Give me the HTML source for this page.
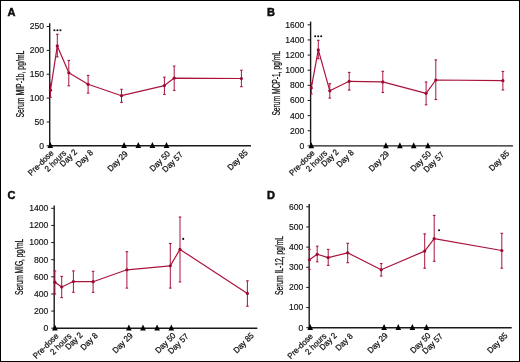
<!DOCTYPE html>
<html><head><meta charset="utf-8"><style>
html,body{margin:0;padding:0;background:#fff;}
svg{display:block;font-family:"Liberation Sans", sans-serif;}
text{stroke:#111;stroke-width:0.25px;fill:#111}
text.tk{stroke-width:0.15px;fill:#141414}
</style></head><body>
<div style="will-change:transform"><svg width="520" height="362" viewBox="0 0 520 362">
<rect x="0" y="0" width="520" height="362" fill="#fff"/>
<text x="7.5" y="16.3" font-size="11" font-weight="bold" fill="#000" style="stroke:#000;stroke-width:0.45px">A</text>
<line x1="49.7" y1="23.3" x2="49.7" y2="146.5" stroke="#1a1a1a" stroke-width="1.4"/>
<line x1="49" y1="145.8" x2="251" y2="145.8" stroke="#1a1a1a" stroke-width="1.4"/>
<line x1="46.7" y1="145.8" x2="49.7" y2="145.8" stroke="#1a1a1a" stroke-width="1"/>
<text x="44.1" y="148.7" font-size="8.6" text-anchor="end" class="tk">0</text>
<line x1="46.7" y1="121.94" x2="49.7" y2="121.94" stroke="#1a1a1a" stroke-width="1"/>
<text x="44.1" y="124.84" font-size="8.6" text-anchor="end" class="tk">50</text>
<line x1="46.7" y1="98.08" x2="49.7" y2="98.08" stroke="#1a1a1a" stroke-width="1"/>
<text x="44.1" y="100.98" font-size="8.6" text-anchor="end" class="tk">100</text>
<line x1="46.7" y1="74.22" x2="49.7" y2="74.22" stroke="#1a1a1a" stroke-width="1"/>
<text x="44.1" y="77.12" font-size="8.6" text-anchor="end" class="tk">150</text>
<line x1="46.7" y1="50.36" x2="49.7" y2="50.36" stroke="#1a1a1a" stroke-width="1"/>
<text x="44.1" y="53.26" font-size="8.6" text-anchor="end" class="tk">200</text>
<line x1="46.7" y1="26.5" x2="49.7" y2="26.5" stroke="#1a1a1a" stroke-width="1"/>
<text x="44.1" y="29.4" font-size="8.6" text-anchor="end" class="tk">250</text>
<path d="M47.5 148.1L50.3 142.1L53.1 148.1Z" fill="#000"/>
<path d="M121.3 148.1L124.1 142.1L126.9 148.1Z" fill="#000"/>
<path d="M135.5 148.1L138.3 142.1L141.1 148.1Z" fill="#000"/>
<path d="M149.6 148.1L152.4 142.1L155.2 148.1Z" fill="#000"/>
<path d="M163.7 148.1L166.5 142.1L169.3 148.1Z" fill="#000"/>
<text x="54" y="153.7" font-size="8.3" text-anchor="end" transform="rotate(-45 54 153.7)" textLength="31.99" lengthAdjust="spacingAndGlyphs" fill="#111">Pre-dose</text>
<text x="66.7" y="153.7" font-size="8.3" text-anchor="end" transform="rotate(-45 66.7 153.7)" textLength="26.3" lengthAdjust="spacingAndGlyphs" fill="#111">2 hours</text>
<text x="77.7" y="152.6" font-size="8.3" text-anchor="end" transform="rotate(-45 77.7 152.6)" textLength="20.6" lengthAdjust="spacingAndGlyphs" fill="#111">Day 2</text>
<text x="93.6" y="153.2" font-size="8.3" text-anchor="end" transform="rotate(-45 93.6 153.2)" textLength="20.6" lengthAdjust="spacingAndGlyphs" fill="#111">Day 8</text>
<text x="128.3" y="154.3" font-size="8.3" text-anchor="end" transform="rotate(-45 128.3 154.3)" textLength="24.98" lengthAdjust="spacingAndGlyphs" fill="#111">Day 29</text>
<text x="170.6" y="154.3" font-size="8.3" text-anchor="end" transform="rotate(-45 170.6 154.3)" textLength="24.98" lengthAdjust="spacingAndGlyphs" fill="#111">Day 50</text>
<text x="183.3" y="155.2" font-size="8.3" text-anchor="end" transform="rotate(-45 183.3 155.2)" textLength="24.98" lengthAdjust="spacingAndGlyphs" fill="#111">Day 57</text>
<text x="248.3" y="153.1" font-size="8.3" text-anchor="end" transform="rotate(-45 248.3 153.1)" textLength="24.98" lengthAdjust="spacingAndGlyphs" fill="#111">Day 85</text>
<text x="23.7" y="117.6" font-size="10.0" transform="rotate(-90 23.7 117.6)" textLength="67" lengthAdjust="spacingAndGlyphs" fill="#111">Serum MIP-1b, pg/mL</text>
<line x1="50.5" y1="83.2" x2="50.5" y2="97.3" stroke="#AA143C" stroke-width="1"/>
<line x1="49.2" y1="83.2" x2="51.8" y2="83.2" stroke="#AA143C" stroke-width="1.1"/>
<line x1="49.2" y1="97.3" x2="51.8" y2="97.3" stroke="#AA143C" stroke-width="1.1"/>
<line x1="57.3" y1="34.3" x2="57.3" y2="56.9" stroke="#AA143C" stroke-width="1"/>
<line x1="56" y1="34.3" x2="58.6" y2="34.3" stroke="#AA143C" stroke-width="1.1"/>
<line x1="56" y1="56.9" x2="58.6" y2="56.9" stroke="#AA143C" stroke-width="1.1"/>
<line x1="68.8" y1="60.4" x2="68.8" y2="85.8" stroke="#AA143C" stroke-width="1"/>
<line x1="67.5" y1="60.4" x2="70.1" y2="60.4" stroke="#AA143C" stroke-width="1.1"/>
<line x1="67.5" y1="85.8" x2="70.1" y2="85.8" stroke="#AA143C" stroke-width="1.1"/>
<line x1="88.1" y1="75.4" x2="88.1" y2="93.1" stroke="#AA143C" stroke-width="1"/>
<line x1="86.8" y1="75.4" x2="89.4" y2="75.4" stroke="#AA143C" stroke-width="1.1"/>
<line x1="86.8" y1="93.1" x2="89.4" y2="93.1" stroke="#AA143C" stroke-width="1.1"/>
<line x1="121.5" y1="89.3" x2="121.5" y2="102.4" stroke="#AA143C" stroke-width="1"/>
<line x1="120.2" y1="89.3" x2="122.8" y2="89.3" stroke="#AA143C" stroke-width="1.1"/>
<line x1="120.2" y1="102.4" x2="122.8" y2="102.4" stroke="#AA143C" stroke-width="1.1"/>
<line x1="164.4" y1="77.2" x2="164.4" y2="94.4" stroke="#AA143C" stroke-width="1"/>
<line x1="163.1" y1="77.2" x2="165.7" y2="77.2" stroke="#AA143C" stroke-width="1.1"/>
<line x1="163.1" y1="94.4" x2="165.7" y2="94.4" stroke="#AA143C" stroke-width="1.1"/>
<line x1="174.2" y1="66.1" x2="174.2" y2="90.4" stroke="#AA143C" stroke-width="1"/>
<line x1="172.9" y1="66.1" x2="175.5" y2="66.1" stroke="#AA143C" stroke-width="1.1"/>
<line x1="172.9" y1="90.4" x2="175.5" y2="90.4" stroke="#AA143C" stroke-width="1.1"/>
<line x1="241.4" y1="70.3" x2="241.4" y2="86.7" stroke="#AA143C" stroke-width="1"/>
<line x1="240.1" y1="70.3" x2="242.7" y2="70.3" stroke="#AA143C" stroke-width="1.1"/>
<line x1="240.1" y1="86.7" x2="242.7" y2="86.7" stroke="#AA143C" stroke-width="1.1"/>
<polyline points="50.5,90.2 57.3,45.9 68.8,72.8 88.1,84.3 121.5,95.7 164.4,85.6 174.2,78.1 241.4,78.5" fill="none" stroke="#AA143C" stroke-width="1.2" stroke-linejoin="round"/>
<circle cx="50.5" cy="90.2" r="1.6" fill="#990A32"/>
<circle cx="57.3" cy="45.9" r="1.6" fill="#990A32"/>
<circle cx="68.8" cy="72.8" r="1.6" fill="#990A32"/>
<circle cx="88.1" cy="84.3" r="1.6" fill="#990A32"/>
<circle cx="121.5" cy="95.7" r="1.6" fill="#990A32"/>
<circle cx="164.4" cy="85.6" r="1.6" fill="#990A32"/>
<circle cx="174.2" cy="78.1" r="1.6" fill="#990A32"/>
<circle cx="241.4" cy="78.5" r="1.6" fill="#990A32"/>
<circle cx="54.4" cy="30.2" r="1.05" fill="#111"/>
<circle cx="57.4" cy="30.2" r="1.05" fill="#111"/>
<circle cx="60.4" cy="30.2" r="1.05" fill="#111"/>
<text x="267" y="16.3" font-size="11" font-weight="bold" fill="#000" style="stroke:#000;stroke-width:0.45px">B</text>
<line x1="310.6" y1="21.6" x2="310.6" y2="146.6" stroke="#1a1a1a" stroke-width="1.4"/>
<line x1="309.9" y1="145.9" x2="513" y2="145.9" stroke="#1a1a1a" stroke-width="1.4"/>
<line x1="307.6" y1="145.9" x2="310.6" y2="145.9" stroke="#1a1a1a" stroke-width="1"/>
<text x="304.3" y="148.8" font-size="8.6" text-anchor="end" class="tk">0</text>
<line x1="307.6" y1="130.76" x2="310.6" y2="130.76" stroke="#1a1a1a" stroke-width="1"/>
<text x="304.3" y="133.66" font-size="8.6" text-anchor="end" class="tk">200</text>
<line x1="307.6" y1="115.62" x2="310.6" y2="115.62" stroke="#1a1a1a" stroke-width="1"/>
<text x="304.3" y="118.53" font-size="8.6" text-anchor="end" class="tk">400</text>
<line x1="307.6" y1="100.49" x2="310.6" y2="100.49" stroke="#1a1a1a" stroke-width="1"/>
<text x="304.3" y="103.39" font-size="8.6" text-anchor="end" class="tk">600</text>
<line x1="307.6" y1="85.35" x2="310.6" y2="85.35" stroke="#1a1a1a" stroke-width="1"/>
<text x="304.3" y="88.25" font-size="8.6" text-anchor="end" class="tk">800</text>
<line x1="307.6" y1="70.21" x2="310.6" y2="70.21" stroke="#1a1a1a" stroke-width="1"/>
<text x="304.3" y="73.11" font-size="8.6" text-anchor="end" class="tk">1000</text>
<line x1="307.6" y1="55.08" x2="310.6" y2="55.08" stroke="#1a1a1a" stroke-width="1"/>
<text x="304.3" y="57.98" font-size="8.6" text-anchor="end" class="tk">1200</text>
<line x1="307.6" y1="39.94" x2="310.6" y2="39.94" stroke="#1a1a1a" stroke-width="1"/>
<text x="304.3" y="42.84" font-size="8.6" text-anchor="end" class="tk">1400</text>
<line x1="307.6" y1="24.8" x2="310.6" y2="24.8" stroke="#1a1a1a" stroke-width="1"/>
<text x="304.3" y="27.7" font-size="8.6" text-anchor="end" class="tk">1600</text>
<path d="M308.5 148.2L311.3 142.2L314.1 148.2Z" fill="#000"/>
<path d="M383.1 148.2L385.9 142.2L388.7 148.2Z" fill="#000"/>
<path d="M397.1 148.2L399.9 142.2L402.7 148.2Z" fill="#000"/>
<path d="M410.9 148.2L413.7 142.2L416.5 148.2Z" fill="#000"/>
<path d="M425.1 148.2L427.9 142.2L430.7 148.2Z" fill="#000"/>
<text x="315.1" y="153.7" font-size="8.3" text-anchor="end" transform="rotate(-45 315.1 153.7)" textLength="31.99" lengthAdjust="spacingAndGlyphs" fill="#111">Pre-dose</text>
<text x="327.8" y="153.7" font-size="8.3" text-anchor="end" transform="rotate(-45 327.8 153.7)" textLength="26.3" lengthAdjust="spacingAndGlyphs" fill="#111">2 hours</text>
<text x="339.2" y="152.6" font-size="8.3" text-anchor="end" transform="rotate(-45 339.2 152.6)" textLength="20.6" lengthAdjust="spacingAndGlyphs" fill="#111">Day 2</text>
<text x="354.4" y="153.2" font-size="8.3" text-anchor="end" transform="rotate(-45 354.4 153.2)" textLength="20.6" lengthAdjust="spacingAndGlyphs" fill="#111">Day 8</text>
<text x="389.7" y="154.3" font-size="8.3" text-anchor="end" transform="rotate(-45 389.7 154.3)" textLength="24.98" lengthAdjust="spacingAndGlyphs" fill="#111">Day 29</text>
<text x="431.5" y="154.3" font-size="8.3" text-anchor="end" transform="rotate(-45 431.5 154.3)" textLength="24.98" lengthAdjust="spacingAndGlyphs" fill="#111">Day 50</text>
<text x="444.5" y="155.2" font-size="8.3" text-anchor="end" transform="rotate(-45 444.5 155.2)" textLength="24.98" lengthAdjust="spacingAndGlyphs" fill="#111">Day 57</text>
<text x="509.9" y="153.9" font-size="8.3" text-anchor="end" transform="rotate(-45 509.9 153.9)" textLength="24.98" lengthAdjust="spacingAndGlyphs" fill="#111">Day 85</text>
<text x="279.7" y="115.6" font-size="10.0" transform="rotate(-90 279.7 115.6)" textLength="64.6" lengthAdjust="spacingAndGlyphs" fill="#111">Serum MCP-1, pg/mL</text>
<line x1="311.3" y1="83" x2="311.3" y2="94" stroke="#AA143C" stroke-width="1"/>
<line x1="310" y1="83" x2="312.6" y2="83" stroke="#AA143C" stroke-width="1.1"/>
<line x1="310" y1="94" x2="312.6" y2="94" stroke="#AA143C" stroke-width="1.1"/>
<line x1="318.3" y1="40.3" x2="318.3" y2="58.7" stroke="#AA143C" stroke-width="1"/>
<line x1="317" y1="40.3" x2="319.6" y2="40.3" stroke="#AA143C" stroke-width="1.1"/>
<line x1="317" y1="58.7" x2="319.6" y2="58.7" stroke="#AA143C" stroke-width="1.1"/>
<line x1="329.8" y1="83.7" x2="329.8" y2="98.1" stroke="#AA143C" stroke-width="1"/>
<line x1="328.5" y1="83.7" x2="331.1" y2="83.7" stroke="#AA143C" stroke-width="1.1"/>
<line x1="328.5" y1="98.1" x2="331.1" y2="98.1" stroke="#AA143C" stroke-width="1.1"/>
<line x1="349.2" y1="72.4" x2="349.2" y2="90.1" stroke="#AA143C" stroke-width="1"/>
<line x1="347.9" y1="72.4" x2="350.5" y2="72.4" stroke="#AA143C" stroke-width="1.1"/>
<line x1="347.9" y1="90.1" x2="350.5" y2="90.1" stroke="#AA143C" stroke-width="1.1"/>
<line x1="382.8" y1="71.3" x2="382.8" y2="92.5" stroke="#AA143C" stroke-width="1"/>
<line x1="381.5" y1="71.3" x2="384.1" y2="71.3" stroke="#AA143C" stroke-width="1.1"/>
<line x1="381.5" y1="92.5" x2="384.1" y2="92.5" stroke="#AA143C" stroke-width="1.1"/>
<line x1="426.1" y1="82" x2="426.1" y2="104.8" stroke="#AA143C" stroke-width="1"/>
<line x1="424.8" y1="82" x2="427.4" y2="82" stroke="#AA143C" stroke-width="1.1"/>
<line x1="424.8" y1="104.8" x2="427.4" y2="104.8" stroke="#AA143C" stroke-width="1.1"/>
<line x1="435.8" y1="59.9" x2="435.8" y2="99.5" stroke="#AA143C" stroke-width="1"/>
<line x1="434.5" y1="59.9" x2="437.1" y2="59.9" stroke="#AA143C" stroke-width="1.1"/>
<line x1="434.5" y1="99.5" x2="437.1" y2="99.5" stroke="#AA143C" stroke-width="1.1"/>
<line x1="502.9" y1="71.4" x2="502.9" y2="90" stroke="#AA143C" stroke-width="1"/>
<line x1="501.6" y1="71.4" x2="504.2" y2="71.4" stroke="#AA143C" stroke-width="1.1"/>
<line x1="501.6" y1="90" x2="504.2" y2="90" stroke="#AA143C" stroke-width="1.1"/>
<polyline points="311.3,87.9 318.3,49.9 329.8,90.8 349.2,81.3 382.8,81.9 426.1,93.3 435.8,80 502.9,80.7" fill="none" stroke="#AA143C" stroke-width="1.2" stroke-linejoin="round"/>
<circle cx="311.3" cy="87.9" r="1.6" fill="#990A32"/>
<circle cx="318.3" cy="49.9" r="1.6" fill="#990A32"/>
<circle cx="329.8" cy="90.8" r="1.6" fill="#990A32"/>
<circle cx="349.2" cy="81.3" r="1.6" fill="#990A32"/>
<circle cx="382.8" cy="81.9" r="1.6" fill="#990A32"/>
<circle cx="426.1" cy="93.3" r="1.6" fill="#990A32"/>
<circle cx="435.8" cy="80" r="1.6" fill="#990A32"/>
<circle cx="502.9" cy="80.7" r="1.6" fill="#990A32"/>
<circle cx="315.2" cy="36.3" r="1.05" fill="#111"/>
<circle cx="318.2" cy="36.3" r="1.05" fill="#111"/>
<circle cx="321.2" cy="36.3" r="1.05" fill="#111"/>
<text x="7.5" y="199.3" font-size="11" font-weight="bold" fill="#000" style="stroke:#000;stroke-width:0.45px">C</text>
<line x1="54.2" y1="205.4" x2="54.2" y2="328.9" stroke="#1a1a1a" stroke-width="1.4"/>
<line x1="53.5" y1="328.2" x2="257.4" y2="328.2" stroke="#1a1a1a" stroke-width="1.4"/>
<line x1="51.2" y1="328.2" x2="54.2" y2="328.2" stroke="#1a1a1a" stroke-width="1"/>
<text x="48.3" y="331.1" font-size="8.6" text-anchor="end" class="tk">0</text>
<line x1="51.2" y1="311.07" x2="54.2" y2="311.07" stroke="#1a1a1a" stroke-width="1"/>
<text x="48.3" y="313.97" font-size="8.6" text-anchor="end" class="tk">200</text>
<line x1="51.2" y1="293.94" x2="54.2" y2="293.94" stroke="#1a1a1a" stroke-width="1"/>
<text x="48.3" y="296.84" font-size="8.6" text-anchor="end" class="tk">400</text>
<line x1="51.2" y1="276.81" x2="54.2" y2="276.81" stroke="#1a1a1a" stroke-width="1"/>
<text x="48.3" y="279.71" font-size="8.6" text-anchor="end" class="tk">600</text>
<line x1="51.2" y1="259.69" x2="54.2" y2="259.69" stroke="#1a1a1a" stroke-width="1"/>
<text x="48.3" y="262.59" font-size="8.6" text-anchor="end" class="tk">800</text>
<line x1="51.2" y1="242.56" x2="54.2" y2="242.56" stroke="#1a1a1a" stroke-width="1"/>
<text x="48.3" y="245.46" font-size="8.6" text-anchor="end" class="tk">1000</text>
<line x1="51.2" y1="225.43" x2="54.2" y2="225.43" stroke="#1a1a1a" stroke-width="1"/>
<text x="48.3" y="228.33" font-size="8.6" text-anchor="end" class="tk">1200</text>
<line x1="51.2" y1="208.3" x2="54.2" y2="208.3" stroke="#1a1a1a" stroke-width="1"/>
<text x="48.3" y="211.2" font-size="8.6" text-anchor="end" class="tk">1400</text>
<path d="M52.1 330.5L54.9 324.5L57.7 330.5Z" fill="#000"/>
<path d="M126.1 330.5L128.9 324.5L131.7 330.5Z" fill="#000"/>
<path d="M140.2 330.5L143 324.5L145.8 330.5Z" fill="#000"/>
<path d="M154.3 330.5L157.1 324.5L159.9 330.5Z" fill="#000"/>
<path d="M168.5 330.5L171.3 324.5L174.1 330.5Z" fill="#000"/>
<text x="59" y="336.6" font-size="8.3" text-anchor="end" transform="rotate(-45 59 336.6)" textLength="31.99" lengthAdjust="spacingAndGlyphs" fill="#111">Pre-dose</text>
<text x="72" y="336.6" font-size="8.3" text-anchor="end" transform="rotate(-45 72 336.6)" textLength="26.3" lengthAdjust="spacingAndGlyphs" fill="#111">2 hours</text>
<text x="83" y="335.7" font-size="8.3" text-anchor="end" transform="rotate(-45 83 335.7)" textLength="20.6" lengthAdjust="spacingAndGlyphs" fill="#111">Day 2</text>
<text x="98.3" y="336.1" font-size="8.3" text-anchor="end" transform="rotate(-45 98.3 336.1)" textLength="20.6" lengthAdjust="spacingAndGlyphs" fill="#111">Day 8</text>
<text x="133.3" y="336.1" font-size="8.3" text-anchor="end" transform="rotate(-45 133.3 336.1)" textLength="24.98" lengthAdjust="spacingAndGlyphs" fill="#111">Day 29</text>
<text x="176.2" y="336.1" font-size="8.3" text-anchor="end" transform="rotate(-45 176.2 336.1)" textLength="24.98" lengthAdjust="spacingAndGlyphs" fill="#111">Day 50</text>
<text x="189" y="336.9" font-size="8.3" text-anchor="end" transform="rotate(-45 189 336.9)" textLength="24.98" lengthAdjust="spacingAndGlyphs" fill="#111">Day 57</text>
<text x="254.4" y="336.1" font-size="8.3" text-anchor="end" transform="rotate(-45 254.4 336.1)" textLength="24.98" lengthAdjust="spacingAndGlyphs" fill="#111">Day 85</text>
<text x="23.3" y="294.9" font-size="10.0" transform="rotate(-90 23.3 294.9)" textLength="56.1" lengthAdjust="spacingAndGlyphs" fill="#111">Serum MIG, pg/mL</text>
<line x1="54.9" y1="270.9" x2="54.9" y2="294.1" stroke="#AA143C" stroke-width="1"/>
<line x1="53.6" y1="270.9" x2="56.2" y2="270.9" stroke="#AA143C" stroke-width="1.1"/>
<line x1="53.6" y1="294.1" x2="56.2" y2="294.1" stroke="#AA143C" stroke-width="1.1"/>
<line x1="61.7" y1="276.4" x2="61.7" y2="297.6" stroke="#AA143C" stroke-width="1"/>
<line x1="60.4" y1="276.4" x2="63" y2="276.4" stroke="#AA143C" stroke-width="1.1"/>
<line x1="60.4" y1="297.6" x2="63" y2="297.6" stroke="#AA143C" stroke-width="1.1"/>
<line x1="73.4" y1="270.9" x2="73.4" y2="292.3" stroke="#AA143C" stroke-width="1"/>
<line x1="72.1" y1="270.9" x2="74.7" y2="270.9" stroke="#AA143C" stroke-width="1.1"/>
<line x1="72.1" y1="292.3" x2="74.7" y2="292.3" stroke="#AA143C" stroke-width="1.1"/>
<line x1="93.1" y1="271.3" x2="93.1" y2="292.3" stroke="#AA143C" stroke-width="1"/>
<line x1="91.8" y1="271.3" x2="94.4" y2="271.3" stroke="#AA143C" stroke-width="1.1"/>
<line x1="91.8" y1="292.3" x2="94.4" y2="292.3" stroke="#AA143C" stroke-width="1.1"/>
<line x1="126.9" y1="251.7" x2="126.9" y2="288.1" stroke="#AA143C" stroke-width="1"/>
<line x1="125.6" y1="251.7" x2="128.2" y2="251.7" stroke="#AA143C" stroke-width="1.1"/>
<line x1="125.6" y1="288.1" x2="128.2" y2="288.1" stroke="#AA143C" stroke-width="1.1"/>
<line x1="170.3" y1="243.5" x2="170.3" y2="288.1" stroke="#AA143C" stroke-width="1"/>
<line x1="169" y1="243.5" x2="171.6" y2="243.5" stroke="#AA143C" stroke-width="1.1"/>
<line x1="169" y1="288.1" x2="171.6" y2="288.1" stroke="#AA143C" stroke-width="1.1"/>
<line x1="180" y1="217" x2="180" y2="281.9" stroke="#AA143C" stroke-width="1"/>
<line x1="178.7" y1="217" x2="181.3" y2="217" stroke="#AA143C" stroke-width="1.1"/>
<line x1="178.7" y1="281.9" x2="181.3" y2="281.9" stroke="#AA143C" stroke-width="1.1"/>
<line x1="247.4" y1="280.8" x2="247.4" y2="306.2" stroke="#AA143C" stroke-width="1"/>
<line x1="246.1" y1="280.8" x2="248.7" y2="280.8" stroke="#AA143C" stroke-width="1.1"/>
<line x1="246.1" y1="306.2" x2="248.7" y2="306.2" stroke="#AA143C" stroke-width="1.1"/>
<polyline points="54.9,282.2 61.7,287 73.4,281.5 93.1,281.7 126.9,269.8 170.3,265.8 180,249.4 247.4,293.4" fill="none" stroke="#AA143C" stroke-width="1.2" stroke-linejoin="round"/>
<circle cx="54.9" cy="282.2" r="1.6" fill="#990A32"/>
<circle cx="61.7" cy="287" r="1.6" fill="#990A32"/>
<circle cx="73.4" cy="281.5" r="1.6" fill="#990A32"/>
<circle cx="93.1" cy="281.7" r="1.6" fill="#990A32"/>
<circle cx="126.9" cy="269.8" r="1.6" fill="#990A32"/>
<circle cx="170.3" cy="265.8" r="1.6" fill="#990A32"/>
<circle cx="180" cy="249.4" r="1.6" fill="#990A32"/>
<circle cx="247.4" cy="293.4" r="1.6" fill="#990A32"/>
<circle cx="183.2" cy="238.9" r="1.05" fill="#111"/>
<text x="267" y="199.3" font-size="11" font-weight="bold" fill="#000" style="stroke:#000;stroke-width:0.45px">D</text>
<line x1="309.2" y1="203.9" x2="309.2" y2="328.4" stroke="#1a1a1a" stroke-width="1.4"/>
<line x1="308.5" y1="327.7" x2="511.7" y2="327.7" stroke="#1a1a1a" stroke-width="1.4"/>
<line x1="306.2" y1="327.7" x2="309.2" y2="327.7" stroke="#1a1a1a" stroke-width="1"/>
<text x="303.3" y="330.6" font-size="8.6" text-anchor="end" class="tk">0</text>
<line x1="306.2" y1="307.55" x2="309.2" y2="307.55" stroke="#1a1a1a" stroke-width="1"/>
<text x="303.3" y="310.45" font-size="8.6" text-anchor="end" class="tk">100</text>
<line x1="306.2" y1="287.4" x2="309.2" y2="287.4" stroke="#1a1a1a" stroke-width="1"/>
<text x="303.3" y="290.3" font-size="8.6" text-anchor="end" class="tk">200</text>
<line x1="306.2" y1="267.25" x2="309.2" y2="267.25" stroke="#1a1a1a" stroke-width="1"/>
<text x="303.3" y="270.15" font-size="8.6" text-anchor="end" class="tk">300</text>
<line x1="306.2" y1="247.1" x2="309.2" y2="247.1" stroke="#1a1a1a" stroke-width="1"/>
<text x="303.3" y="250" font-size="8.6" text-anchor="end" class="tk">400</text>
<line x1="306.2" y1="226.95" x2="309.2" y2="226.95" stroke="#1a1a1a" stroke-width="1"/>
<text x="303.3" y="229.85" font-size="8.6" text-anchor="end" class="tk">500</text>
<line x1="306.2" y1="206.8" x2="309.2" y2="206.8" stroke="#1a1a1a" stroke-width="1"/>
<text x="303.3" y="209.7" font-size="8.6" text-anchor="end" class="tk">600</text>
<path d="M307.4 330L310.2 324L313 330Z" fill="#000"/>
<path d="M381.3 330L384.1 324L386.9 330Z" fill="#000"/>
<path d="M395.5 330L398.3 324L401.1 330Z" fill="#000"/>
<path d="M409.6 330L412.4 324L415.2 330Z" fill="#000"/>
<path d="M423.7 330L426.5 324L429.3 330Z" fill="#000"/>
<text x="313.4" y="336.9" font-size="8.3" text-anchor="end" transform="rotate(-45 313.4 336.9)" textLength="31.99" lengthAdjust="spacingAndGlyphs" fill="#111">Pre-dose</text>
<text x="327" y="336.6" font-size="8.3" text-anchor="end" transform="rotate(-45 327 336.6)" textLength="26.3" lengthAdjust="spacingAndGlyphs" fill="#111">2 hours</text>
<text x="337.4" y="336.1" font-size="8.3" text-anchor="end" transform="rotate(-45 337.4 336.1)" textLength="20.6" lengthAdjust="spacingAndGlyphs" fill="#111">Day 2</text>
<text x="353.3" y="336.6" font-size="8.3" text-anchor="end" transform="rotate(-45 353.3 336.6)" textLength="20.6" lengthAdjust="spacingAndGlyphs" fill="#111">Day 8</text>
<text x="388.3" y="336.1" font-size="8.3" text-anchor="end" transform="rotate(-45 388.3 336.1)" textLength="24.98" lengthAdjust="spacingAndGlyphs" fill="#111">Day 29</text>
<text x="431.2" y="336.1" font-size="8.3" text-anchor="end" transform="rotate(-45 431.2 336.1)" textLength="24.98" lengthAdjust="spacingAndGlyphs" fill="#111">Day 50</text>
<text x="443.3" y="336.9" font-size="8.3" text-anchor="end" transform="rotate(-45 443.3 336.9)" textLength="24.98" lengthAdjust="spacingAndGlyphs" fill="#111">Day 57</text>
<text x="508.2" y="336.1" font-size="8.3" text-anchor="end" transform="rotate(-45 508.2 336.1)" textLength="24.98" lengthAdjust="spacingAndGlyphs" fill="#111">Day 85</text>
<text x="282.7" y="295" font-size="10.0" transform="rotate(-90 282.7 295)" textLength="59" lengthAdjust="spacingAndGlyphs" fill="#111">Serum IL-12, pg/mL</text>
<line x1="309.4" y1="249.4" x2="309.4" y2="269.3" stroke="#AA143C" stroke-width="1"/>
<line x1="308.1" y1="249.4" x2="310.7" y2="249.4" stroke="#AA143C" stroke-width="1.1"/>
<line x1="308.1" y1="269.3" x2="310.7" y2="269.3" stroke="#AA143C" stroke-width="1.1"/>
<line x1="317.2" y1="246.2" x2="317.2" y2="261.8" stroke="#AA143C" stroke-width="1"/>
<line x1="315.9" y1="246.2" x2="318.5" y2="246.2" stroke="#AA143C" stroke-width="1.1"/>
<line x1="315.9" y1="261.8" x2="318.5" y2="261.8" stroke="#AA143C" stroke-width="1.1"/>
<line x1="328.2" y1="249.4" x2="328.2" y2="265.4" stroke="#AA143C" stroke-width="1"/>
<line x1="326.9" y1="249.4" x2="329.5" y2="249.4" stroke="#AA143C" stroke-width="1.1"/>
<line x1="326.9" y1="265.4" x2="329.5" y2="265.4" stroke="#AA143C" stroke-width="1.1"/>
<line x1="347.7" y1="243.3" x2="347.7" y2="262.7" stroke="#AA143C" stroke-width="1"/>
<line x1="346.4" y1="243.3" x2="349" y2="243.3" stroke="#AA143C" stroke-width="1.1"/>
<line x1="346.4" y1="262.7" x2="349" y2="262.7" stroke="#AA143C" stroke-width="1.1"/>
<line x1="381.2" y1="263.6" x2="381.2" y2="276" stroke="#AA143C" stroke-width="1"/>
<line x1="379.9" y1="263.6" x2="382.5" y2="263.6" stroke="#AA143C" stroke-width="1.1"/>
<line x1="379.9" y1="276" x2="382.5" y2="276" stroke="#AA143C" stroke-width="1.1"/>
<line x1="424.7" y1="233.9" x2="424.7" y2="268.2" stroke="#AA143C" stroke-width="1"/>
<line x1="423.4" y1="233.9" x2="426" y2="233.9" stroke="#AA143C" stroke-width="1.1"/>
<line x1="423.4" y1="268.2" x2="426" y2="268.2" stroke="#AA143C" stroke-width="1.1"/>
<line x1="434.2" y1="215.4" x2="434.2" y2="261.3" stroke="#AA143C" stroke-width="1"/>
<line x1="432.9" y1="215.4" x2="435.5" y2="215.4" stroke="#AA143C" stroke-width="1.1"/>
<line x1="432.9" y1="261.3" x2="435.5" y2="261.3" stroke="#AA143C" stroke-width="1.1"/>
<line x1="501.8" y1="233.3" x2="501.8" y2="268.2" stroke="#AA143C" stroke-width="1"/>
<line x1="500.5" y1="233.3" x2="503.1" y2="233.3" stroke="#AA143C" stroke-width="1.1"/>
<line x1="500.5" y1="268.2" x2="503.1" y2="268.2" stroke="#AA143C" stroke-width="1.1"/>
<polyline points="309.4,259.8 317.2,254.3 328.2,257.6 347.7,252.8 381.2,269.8 424.7,251.1 434.2,238.6 501.8,250.5" fill="none" stroke="#AA143C" stroke-width="1.2" stroke-linejoin="round"/>
<circle cx="309.4" cy="259.8" r="1.6" fill="#990A32"/>
<circle cx="317.2" cy="254.3" r="1.6" fill="#990A32"/>
<circle cx="328.2" cy="257.6" r="1.6" fill="#990A32"/>
<circle cx="347.7" cy="252.8" r="1.6" fill="#990A32"/>
<circle cx="381.2" cy="269.8" r="1.6" fill="#990A32"/>
<circle cx="424.7" cy="251.1" r="1.6" fill="#990A32"/>
<circle cx="434.2" cy="238.6" r="1.6" fill="#990A32"/>
<circle cx="501.8" cy="250.5" r="1.6" fill="#990A32"/>
<circle cx="439.1" cy="230.3" r="1.05" fill="#111"/>
<rect x="0.5" y="0.5" width="519" height="361" fill="none" stroke="#000" stroke-width="1"/>
</svg></div>
</body></html>
